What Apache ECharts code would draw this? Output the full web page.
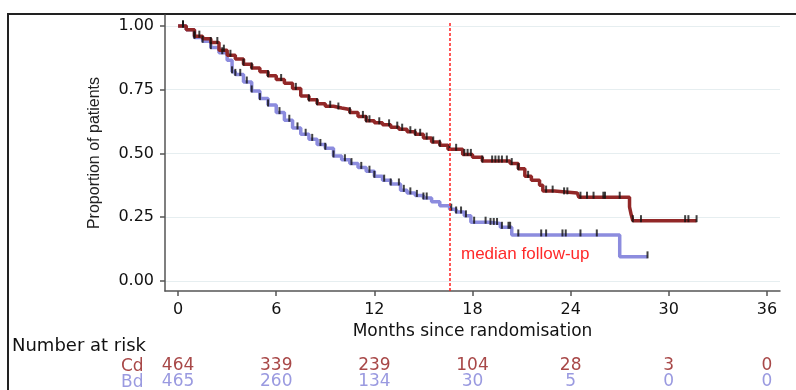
<!DOCTYPE html>
<html>
<head>
<meta charset="utf-8">
<script src="https://cdn.jsdelivr.net/npm/echarts@6/dist/echarts.min.js"></script>
<style>
html,body{margin:0;padding:0;background:#fff;}
#main{width:796px;height:390px;}
</style>
</head>
<body>
<div id="main"></div>
<script>
// Kaplan-Meier (months, proportion)
var cdTime = [0,0.5,1.0,1.5,2.0,2.5,3.0,3.5,4.0,4.5,5.0,5.5,6.0,6.5,7.0,7.5,8.0,8.5,9.0,9.5,10.0,10.5,11.0,11.5,12.0,12.5,13.0,13.5,14.0,14.5,15.0,15.5,16.0,16.5,17.4,18.0,18.6,20.3,20.8,21.2,21.6,22.1,22.3,23.0,24.4,24.5,27.6,27.7,27.8,31.7];
var cdSurv = [1.00,0.985,0.96,0.95,0.935,0.905,0.885,0.87,0.85,0.835,0.82,0.805,0.79,0.775,0.755,0.725,0.71,0.695,0.685,0.678,0.672,0.66,0.645,0.628,0.62,0.612,0.603,0.595,0.585,0.575,0.56,0.545,0.532,0.516,0.496,0.485,0.47,0.46,0.44,0.41,0.395,0.375,0.352,0.345,0.34,0.328,0.29,0.26,0.236,0.236];
var bdTime = [0,0.5,1.0,1.5,2.0,2.5,3.0,3.3,3.5,4.0,4.5,5.0,5.5,6.0,6.5,7.0,7.5,8.0,8.5,9.0,9.5,10.0,10.5,11.0,11.5,12.0,12.5,13.0,13.6,14.0,14.5,15.0,15.5,16.0,16.6,17.0,17.5,17.9,19.0,19.7,20.4,27.0,28.7];
var bdSurv = [1.00,0.985,0.955,0.94,0.915,0.895,0.865,0.82,0.81,0.78,0.745,0.715,0.69,0.66,0.63,0.60,0.575,0.555,0.535,0.52,0.49,0.475,0.46,0.445,0.43,0.41,0.395,0.38,0.355,0.345,0.335,0.325,0.31,0.295,0.281,0.27,0.255,0.23,0.225,0.21,0.18,0.094,0.094];
// censoring marks (months)
var cdCens = [0.3,1.0,1.3,2.0,2.4,2.8,3.2,4.0,4.5,5.5,6.3,7.2,8.0,8.5,9.3,9.8,10.5,11.3,11.5,11.7,12.3,12.9,13.4,13.7,14.2,14.5,14.8,15.2,15.6,16.0,16.6,17.0,17.5,17.7,17.9,18.6,19.2,19.4,19.6,19.8,20.1,20.4,20.8,21.4,22.5,22.9,23.6,23.8,24.6,25.0,25.4,26.0,26.1,27.0,27.8,28.3,31.0,31.2,31.7];
var bdCens = [0.3,1.0,1.5,2.0,2.7,3.3,3.5,3.8,4.2,4.5,5.0,5.5,6.2,6.8,7.3,7.8,8.2,8.7,9.0,9.5,10.2,10.6,11.2,11.7,12.0,12.6,13.0,13.5,13.8,14.2,14.6,15.0,15.2,16.7,17.0,17.3,17.6,18.1,18.8,19.1,19.3,19.5,19.8,20.2,20.3,20.8,22.2,22.5,23.5,23.7,24.6,25.6,28.7];
var medianFollowUp = 16.6;

// number at risk
var riskTimes = [0,6,12,18,24,30,36];
var cdRisk = [464,339,239,104,28,3,0];
var bdRisk = [465,260,134,30,5,0,0];
var yTicks = [0,0.25,0.5,0.75,1];

var cdColor = '#922828';
var bdColor = '#8c8cde';
var cdText = '#a84848';
var bdText = '#9a9ae0';
var sans = 'Liberation Sans, Arial, sans-serif';
var wide = 'DejaVu Sans, sans-serif';

var myChart = echarts.init(document.getElementById('main'));

function pairs(t, s){
	var out = [];
	for(var i=0;i<t.length;i++) out.push([t[i], s[i]]);
	return out;
}
// value of the step curve at time x
function survAt(t, s, x){
	var v = s[0];
	for(var i=0;i<t.length;i++){ if(t[i] <= x) v = s[i]; }
	return v;
}
function censPts(c, t, s){
	var out = [];
	for(var i=0;i<c.length;i++) out.push([c[i], survAt(t, s, c[i])]);
	return out;
}
//number-at-risk rows drawn as extra label-only x axes
function riskAxis(arr, color, offset){
	return {
		type:'value', position:'bottom', min:-0.8, max:36.8, offset:offset,
		axisLine:{show:false}, axisTick:{show:false}, splitLine:{show:false},
		axisLabel:{
			customValues: riskTimes, margin:0, color:color, fontSize:17, fontFamily:wide,
			formatter:function(v){ var i = riskTimes.indexOf(v); return i<0 ? '' : String(arr[i]); }
		}
	};
}

var option = {
	animation:false,
	grid:{left:165, right:16, top:15, bottom:98},
	xAxis:[{
		type:'value', min:-0.8, max:36.8,
		name:'Months since randomisation', nameLocation:'middle', nameGap:23,
		nameTextStyle:{fontSize:17, color:'#111', fontFamily:wide},
		axisLine:{onZero:false, lineStyle:{color:'#555', width:1.5}},
		axisTick:{customValues:riskTimes, length:5, lineStyle:{color:'#555', width:1.5}},
		axisLabel:{customValues:riskTimes, margin:11, fontSize:16, color:'#111', fontFamily:wide},
		splitLine:{show:false}
	},
	riskAxis(cdRisk, cdText, 66),
	riskAxis(bdRisk, bdText, 82)
	],
	yAxis:{
		type:'value', min:-0.04, max:1.043,
		name:'Proportion of patients', nameLocation:'middle', nameGap:62,
		nameTextStyle:{fontSize:16, color:'#222', fontFamily:sans},
		axisLine:{onZero:false, lineStyle:{color:'#555', width:1.5}},
		axisTick:{customValues:yTicks, length:5, lineStyle:{color:'#555', width:1.5}},
		axisLabel:{customValues:yTicks, margin:11, fontSize:16, color:'#111', fontFamily:wide,
			formatter:function(v){ return v.toFixed(2); }},
		splitLine:{show:true, lineStyle:{color:'#e6eef0', width:1.2}}
	},
	series:[
		{
			name:'Bd', type:'line', step:'end', symbol:'none',
			lineStyle:{color:bdColor, width:3.5}, data:pairs(bdTime, bdSurv), z:2
		},
		{
			name:'Cd', type:'line', step:'end', symbol:'none',
			lineStyle:{color:cdColor, width:3.5}, data:pairs(cdTime, cdSurv), z:3,
			markLine:{
				silent:true, symbol:'none', label:{show:false},
				itemStyle:{color:'#ff2020'},
				lineStyle:{color:'#ff2020', type:[3,2], width:1.5, opacity:1},
				data:[[{coord:[medianFollowUp, 1.012]}, {coord:[medianFollowUp, -0.04]}]]
			}
		},
		{
			name:'Bd censored', type:'scatter', symbol:'rect', symbolSize:[2,7], symbolOffset:[0,-2],
			itemStyle:{color:'#111'}, data:censPts(bdCens, bdTime, bdSurv), z:4
		},
		{
			name:'Cd censored', type:'scatter', symbol:'rect', symbolSize:[2,7], symbolOffset:[0,-2],
			itemStyle:{color:'#111'}, data:censPts(cdCens, cdTime, cdSurv), z:4
		}
	],
	graphic:[
		{type:'rect', shape:{x:8, y:14, width:800, height:400}, style:{fill:'none', stroke:'#222', lineWidth:2}, silent:true},
		{type:'text', left:461, top:246, style:{text:'median follow-up', fill:'#ff2a2a', font:'17px ' + sans}},
		{type:'text', left:12, top:337, style:{text:'Number at risk', fill:'#111', font:'18px ' + wide}},
		{type:'text', left:121, top:358, style:{text:'Cd', fill:cdText, font:'17px ' + wide}},
		{type:'text', left:121, top:374, style:{text:'Bd', fill:bdText, font:'17px ' + wide}}
	]
};
myChart.setOption(option);
</script>
</body>
</html>
